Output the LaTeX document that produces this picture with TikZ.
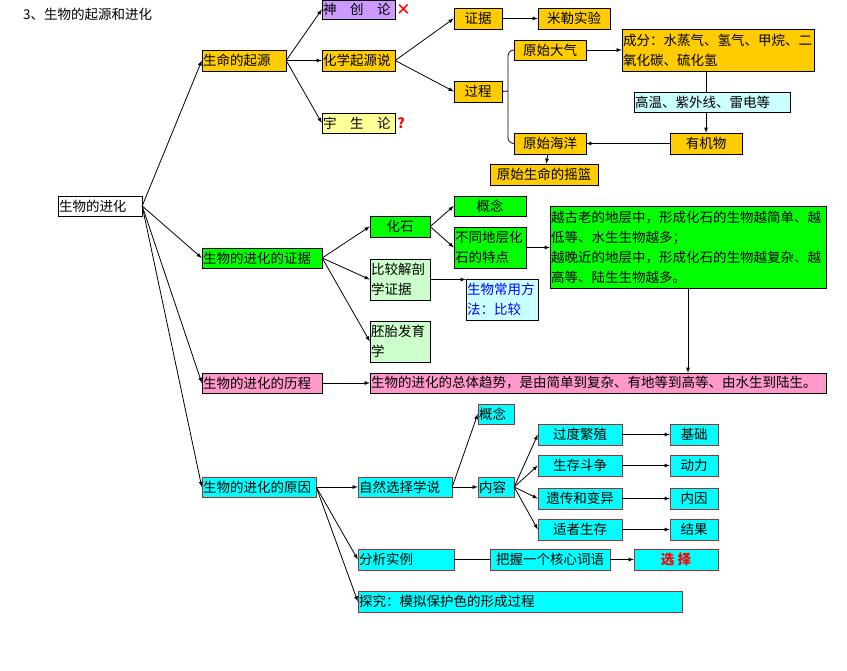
\documentclass[tikz,border=0pt]{standalone}
\usepackage{fontspec}
\setmainfont{Noto Sans CJK SC}
\newfontfamily\symfont{DejaVu Sans}
\usetikzlibrary{fit,positioning,arrows}
\definecolor{org}{HTML}{FFCC00}
\definecolor{lila}{HTML}{CC99FF}
\definecolor{lyel}{HTML}{FFFF99}
\definecolor{lcyan}{HTML}{CCFFFF}
\definecolor{grn}{HTML}{00FF00}
\definecolor{lgrn}{HTML}{CCFFCC}
\definecolor{pnk}{HTML}{FF99CC}
\definecolor{cyn}{HTML}{00FFFF}
\definecolor{dred}{HTML}{993333}
\newcommand\bx[7]{\node[box,#6,fit={(#2,#3) (#4,#5)}] (#1) {};
  \node[txt] (#1t) at (#1.west) {#7};}
\newcommand\bc[7]{\node[box,#6,fit={(#2,#3) (#4,#5)}] (#1) {};
  \node[txt,anchor=center] (#1t) at (#1.center) {#7};}
\begin{document}
\begin{tikzpicture}[x=1pt,y=-1pt]
\tikzstyle{box}=[rectangle, draw=black, inner sep=0pt]
\tikzstyle{cbox}=[box, draw=dred, fill=cyn]
\tikzstyle{txt}=[anchor=west, inner sep=1pt, align=left, font=\fontsize{13.5}{20}\selectfont]
\tikzstyle{connect}=[-latex, thick]
\useasboundingbox (0,0) rectangle (847,671);

% 1. Nodes
%%%%%%%%%%
\node[txt, anchor=west] (title) at (22,14) {3、生物的起源和进化};
\bx{root}{58}{196}{142}{216}{fill=white}{生物的进化}
% origin
\bx{qy}{202}{50}{286}{71}{fill=org}{生命的起源}
\bx{sc}{322}{0}{395}{19}{fill=lila}{神\quad 创\quad 论}
\node[txt, text=red, font=\symfont\fontsize{17}{17}\selectfont] (no) [right=0pt of sc] {✕};
\bx{hx}{322}{50}{395}{71}{fill=org}{化学起源说}
\bx{ys}{322}{113}{395}{133}{fill=lyel}{宇\quad 生\quad 论}
\node[txt, text=red, font=\bfseries\fontsize{14}{14}\selectfont] (qm) [right=1pt of ys] {?};
\bc{zj}{454}{8}{502}{29}{fill=org}{证据}
\bc{ml}{538}{8}{610}{29}{fill=org}{米勒实验}
\bc{gc}{454}{81}{502}{102}{fill=org}{过程}
\bc{dq}{514}{40}{586}{60}{fill=org}{原始大气}
\bx{cf}{622}{29}{814}{71}{fill=org}{成分：水蒸气、氢气、甲烷、二\\氧化碳、硫化氢}
\bx{gw}{634}{92}{790}{112}{fill=lcyan}{高温、紫外线、雷电等}
\bc{yj}{670}{133}{742}{154}{fill=org}{有机物}
\bc{hy}{514}{133}{586}{154}{fill=org}{原始海洋}
\bc{yl}{490}{164}{598}{185}{fill=org}{原始生命的摇篮}
% evidence
\bx{zjj}{202}{248}{322}{268}{fill=grn}{生物的进化的证据}
\bc{hs}{370}{216}{430}{237}{fill=grn}{化石}
\bc{gn}{454}{196}{526}{216}{fill=grn}{概念}
\bx{bt}{454}{227}{526}{268}{fill=grn}{不同地层化\\石的特点}
\bx{lg}{550}{206}{826}{288}{fill=grn}{越古老的地层中，形成化石的生物越简单、越\\低等、水生生物越多；\\越晚近的地层中，形成化石的生物越复杂、越\\高等、陆生生物越多。}
\bx{bj}{370}{259}{430}{300}{fill=lgrn}{比较解剖\\学证据}
\bx{ff}{466}{279}{538}{320}{fill=lcyan,text=blue}{\color{blue}生物常用方\\\color{blue}法：比较}
\bx{pt}{370}{321}{430}{362}{fill=lgrn}{胚胎发育\\学}
% course
\bx{lc}{202}{373}{322}{393}{fill=pnk}{生物的进化的历程}
\bx{qs}{370}{373}{826}{393}{fill=pnk}{生物的进化的总体趋势，是由简单到复杂、有地等到高等、由水生到陆生。}
% cause
\bx{yy}{202}{477}{316}{497}{cbox}{生物的进化的原因}
\bx{zr}{358}{477}{452}{497}{cbox}{自然选择学说}
\bx{gn2}{478}{404}{514}{424}{cbox}{概念}
\bx{nr}{478}{477}{514}{497}{cbox}{内容}
\bc{gd}{538}{424}{622}{445}{cbox}{过度繁殖}
\bc{sd}{538}{455}{622}{476}{cbox}{生存斗争}
\bc{yc}{538}{488}{622}{509}{cbox}{遗传和变异}
\bc{sz}{538}{519}{622}{540}{cbox}{适者生存}
\bc{jc}{670}{424}{718}{445}{cbox}{基础}
\bc{dl}{670}{455}{718}{476}{cbox}{动力}
\bc{ny}{670}{488}{718}{509}{cbox}{内因}
\bc{jg}{670}{519}{718}{540}{cbox}{结果}
\bx{fx}{358}{549}{454}{570}{cbox}{分析实例}
\bc{bw}{490}{549}{610}{570}{cbox}{把握一个核心词语}
\bc{xz}{634}{549}{718}{570}{cbox}{\color{red}\bfseries\itshape 选\ 择}
\bx{tj}{358}{591}{682}{612}{cbox}{探究：模拟保护色的形成过程}

% 2. Arrows
%%%%%%%%%%%
\coordinate (br) at (508,91);
\coordinate (gk) at (706,71);
\path (root.east) edge [connect] (qy.west)
      (root.east) edge [connect] (zjj.west)
      (root.east) edge [connect] (lc.west)
      (root.east) edge [connect] (yy.west)
      (qy.east) edge [connect] (sc.west)
      (qy.east) edge [connect] (hx.west)
      (qy.east) edge [connect] (ys.west)
      (hx.east) edge [connect] (zj.west)
      (hx.east) edge [connect] (gc.west)
      (zj) edge [connect] (ml)
      (dq.east) edge [connect] (dq.east -| cf.west)
      (yj) edge [connect] (hy)
      (hy) edge [connect] (yl)
      (zjj.east) edge [connect] (hs.west)
      (zjj.east) edge [connect] (bj.west)
      (zjj.east) edge [connect] (pt.west)
      (hs.east) edge [connect] (gn.west)
      (hs.east) edge [connect] (bt.west)
      (bt.east) edge [connect] (bt.east -| lg.west)
      (bj.east) edge [connect] (bj.east -| ff.west)
      (lg.south) edge [connect] (lg.south |- qs.north)
      (lc) edge [connect] (qs)
      (yy.east) edge [connect] (zr.west)
      (yy.east) edge [connect] (fx.west)
      (yy.east) edge [connect] (tj.west)
      (zr.east) edge [connect] (gn2.west)
      (zr) edge [connect] (nr)
      (nr.east) edge [connect] (gd.west)
      (nr.east) edge [connect] (sd.west)
      (nr.east) edge [connect] (yc.west)
      (nr.east) edge [connect] (sz.west)
      (gd) edge [connect] (jc)
      (sd) edge [connect] (dl)
      (yc) edge [connect] (ny)
      (sz) edge [connect] (jg)
      (bw) edge [connect] (xz);
\draw[thick] (fx) -- (bw);
\draw[thick] (gc.east) -- (br);
\draw[thick, rounded corners=6pt] (dq.west) -| (br) |- (hy.west);
\draw[thick] (gk) -- (gk |- gw.north);
\draw[connect] (gw.south -| yj.north) -- (yj.north);
\end{tikzpicture}
\end{document}
